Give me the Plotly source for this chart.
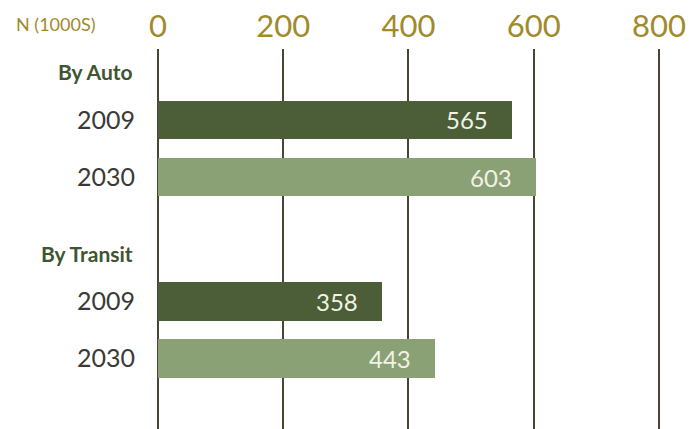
import plotly.graph_objects as go

# Commuters (thousands) by mode and year
groups = ["By Auto", "By Transit"]
years = ["2009", "2030"]
values = {
    "By Auto": [565, 603],
    "By Transit": [358, 443],
}
x_ticks = [0, 200, 400, 600, 800]

bar_colors = {"2009": "#4b5e37", "2030": "#89a174"}
gold = "#a08a2c"
grid_color = "#4a4436"
group_gap = 3.17  # rows between the start of each group

fig = go.Figure()
annotations = []
tickvals, ticktext = [], []

for g, grp in enumerate(groups):
    base = g * group_gap
    for i, yr in enumerate(years):
        pos = base + i
        v = values[grp][i]
        fig.add_trace(go.Bar(
            x=[v], y=[pos], orientation="h", width=0.67,
            marker=dict(color=bar_colors[yr], line=dict(width=0)),
            showlegend=False, hoverinfo="skip",
        ))
        annotations.append(dict(
            x=v, y=pos, xref="x", yref="y", text=str(v), showarrow=False,
            xanchor="right", yanchor="middle", xshift=-22,
            font=dict(family="Lato", size=24, color="#f2f2e6"),
        ))
        tickvals.append(pos)
        ticktext.append(yr)
    annotations.append(dict(
        x=0, y=base - 0.84, xref="paper", yref="y", text="<b>" + grp + "</b>",
        showarrow=False, xanchor="right", yanchor="middle", xshift=-22,
        font=dict(family="Lato", size=21, color="#3f5431"),
    ))

annotations.append(dict(
    x=0, y=1, xref="paper", yref="paper", text="N (1000S)", showarrow=False,
    xanchor="right", yanchor="bottom", xshift=-59, yshift=12,
    font=dict(family="Lato", size=18, color=gold),
))

fig.update_layout(
    width=692, height=429,
    margin=dict(l=157, r=0, t=49, b=0),
    paper_bgcolor="white", plot_bgcolor="white",
    bargap=0,
    annotations=annotations,
    xaxis=dict(
        range=[-1.6, 852.8], side="top", tickvals=x_ticks,
        ticktext=[str(t) for t in x_ticks],
        showgrid=True, gridcolor=grid_color, gridwidth=2,
        zeroline=True, zerolinecolor=grid_color, zerolinewidth=2,
        showline=False, ticks="", ticklabelstandoff=5,
        tickfont=dict(family="Lato", size=31, color=gold),
        fixedrange=True,
    ),
    yaxis=dict(
        range=[5.40, -1.24], tickvals=tickvals, ticktext=ticktext,
        showgrid=False, zeroline=False, showline=False, ticks="",
        ticklabelstandoff=21,
        tickfont=dict(family="Lato", size=25, color="#3a3a36"),
        fixedrange=True,
    ),
)

fig.write_html("out.html")
